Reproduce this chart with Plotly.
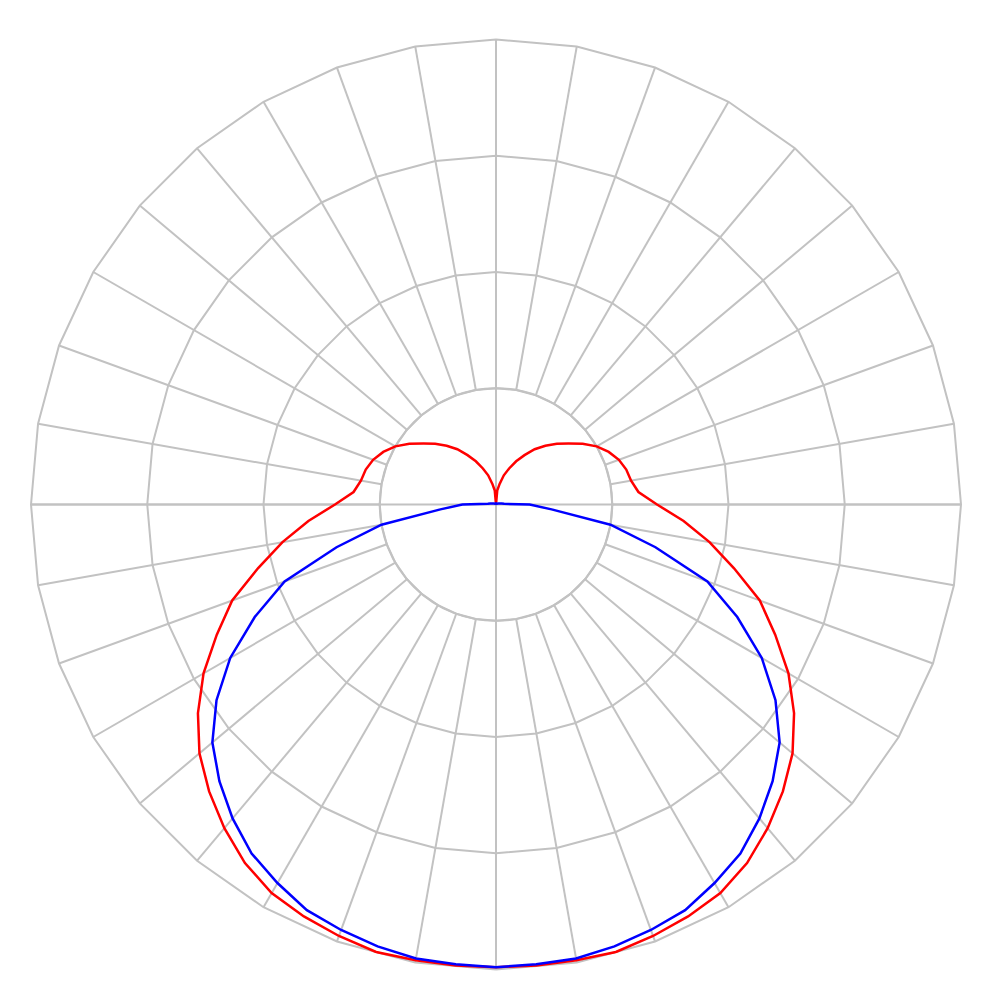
import plotly.graph_objects as go

# gamma angles (degrees from nadir), one half of each symmetric C-plane
GAMMA = list(range(0, 181, 5))

# C0-C180 plane (red)
C0_180 = [398, 398, 398, 398.5, 395, 391, 386, 376.5, 363.5, 349, 333, 313,
          290.5, 265, 241.5, 212, 186.5, 162, 138.5, 123, 118, 116, 112.5,
          107, 100, 91, 81.5, 74, 66, 58, 49, 41, 33, 26, 18, 12, 0]

# C90-C270 plane (blue)
C90_270 = [398, 397, 396.5, 393.5, 389.5, 385, 376, 366.5, 352.5, 336.5,
           318.5, 293.5, 264, 229, 193.5, 142, 100, 48, 29, 7, 5, 3, 2.5, 2,
           1.5, 1, 1, 1, 1, 1, 1, 1, 1, 1, 1, 1, 1]

RING_VALS = [100, 200, 300, 400]
SPOKES = [str(a) for a in range(0, 360, 10)]
GRID = '#c2c2c2'


def full_curve(vals):
    """mirror one half-plane onto the other side -> closed curve"""
    theta = GAMMA + [360 - g for g in reversed(GAMMA[:-1])]
    r = vals + list(reversed(vals[:-1]))
    return theta, r


fig = go.Figure()
# dummy trace so the polygon grid subplot gets drawn (category axis -> linear gridshape)
fig.add_trace(go.Scatterpolar(
    theta=SPOKES, r=[RING_VALS[0]] * len(SPOKES), mode='lines', subplot='polar',
    line=dict(color='rgba(0,0,0,0)', width=0), hoverinfo='skip', showlegend=False,
))
for vals, color in ((C0_180, '#ff0000'), (C90_270, '#0000ff')):
    theta, r = full_curve(vals)
    fig.add_trace(go.Scatterpolar(
        theta=theta, r=r, mode='lines', subplot='polar2',
        line=dict(color=color, width=2.5), showlegend=False,
    ))

axis_off = dict(showticklabels=False, ticks='')
full = dict(x=[0, 1], y=[0, 1])

fig.update_layout(
    paper_bgcolor='white', plot_bgcolor='white',
    margin=dict(l=23, r=31, t=29, b=20),
    showlegend=False,
    polar=dict(
        domain=full,
        hole=RING_VALS[0] / RING_VALS[-1], gridshape='linear', bgcolor='white',
        angularaxis=dict(type='category', categoryorder='array', categoryarray=SPOKES,
                         rotation=270, direction='counterclockwise',
                         gridcolor=GRID, gridwidth=2,
                         showline=True, linecolor=GRID, linewidth=2, **axis_off),
        radialaxis=dict(range=[RING_VALS[0], RING_VALS[-1]], tickvals=RING_VALS[1:-1],
                        gridcolor=GRID, gridwidth=2, showline=False, **axis_off),
    ),
    polar2=dict(
        domain=full,
        bgcolor='rgba(0,0,0,0)',
        angularaxis=dict(rotation=270, direction='counterclockwise',
                         tickvals=[0, 90, 180, 270],
                         gridcolor=GRID, gridwidth=2, showline=False, **axis_off),
        radialaxis=dict(range=[0, RING_VALS[-1]], tickvals=RING_VALS[:1],
                        gridcolor=GRID, gridwidth=2, showline=False, **axis_off),
    ),
)

fig.write_html("out.html")
